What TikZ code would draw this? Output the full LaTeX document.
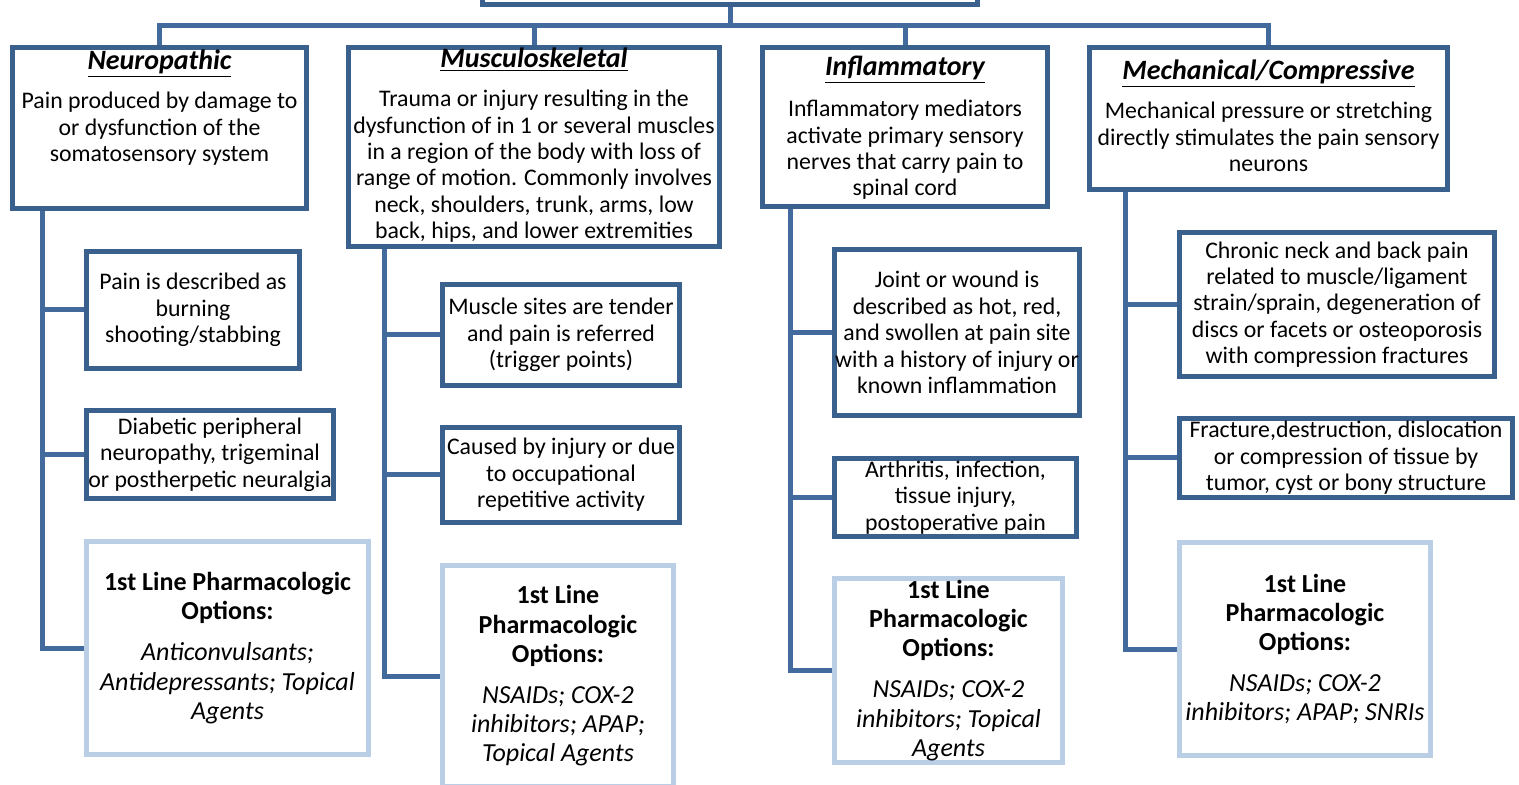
\documentclass[tikz,border=0pt]{standalone}
\usepackage{fontspec}
\setmainfont{Carlito}
\usetikzlibrary{positioning}
\definecolor{boxblue}{RGB}{58,96,142}
\definecolor{lineblue}{RGB}{66,106,156}
\definecolor{pharmblue}{RGB}{186,206,230}
\tikzset{
  boxsize/.style 2 args={minimum width=#1*0.5pt, minimum height=#2*0.5pt},
  catbox/.style={draw=boxblue, line width=2.5pt, fill=white, inner sep=0pt},
  subbox/.style={draw=boxblue, line width=2.5pt, fill=white, align=center, inner sep=0pt, font=\fontsize{11.9}{13.2}\selectfont},
  pharmbox/.style={draw=pharmblue, line width=2.5pt, fill=white, align=center, inner sep=0pt, font=\fontsize{13}{14.6}\selectfont},
  cattitle/.style={inner sep=0pt, text height=9pt, text depth=3pt, font=\fontsize{14}{16}\selectfont\bfseries\itshape},
  catdesc/.style={inner sep=0pt, align=center, font=\fontsize{11.9}{13.2}\selectfont},
  link/.style={draw=lineblue, line width=2.5pt}
}
\begin{document}
\begin{tikzpicture}[x=0.5pt, y=-0.5pt]
  \useasboundingbox (0,0) rectangle (1519,785);

  % top box and the four categories
  \node[catbox, boxsize={495}{90}] (top) at (730,-40) {};
  \node[catbox, boxsize={294}{161}] (neuro) at (159.5,128) {};
  \node[catbox, boxsize={371}{199}] (musc) at (534,147) {};
  \node[catbox, boxsize={285}{159}] (infl) at (905,127) {};
  \node[catbox, boxsize={358}{142}] (mech) at (1268.5,118.5) {};

  \node[cattitle, below=3pt of neuro.north] (neurot) {\underline{Neuropathic}};
  \node[catdesc, below=8pt of neurot] (neurod) {Pain produced by damage to\\ or dysfunction of the\\ somatosensory system};
  \node[cattitle, below=2pt of musc.north] (musct) {\underline{Musculoskeletal}};
  \node[catdesc, below=8pt of musct] (muscd) {Trauma or injury resulting in the\\ dysfunction of in 1 or several muscles\\ in a region of the body with loss of\\ range of motion. Commonly involves\\ neck, shoulders, trunk, arms, low\\ back, hips, and lower extremities};
  \node[cattitle, below=6pt of infl.north] (inflt) {\underline{Inflammatory}};
  \node[catdesc, below=9pt of inflt] (infld) {Inflammatory mediators\\ activate primary sensory\\ nerves that carry pain to\\ spinal cord};
  \node[cattitle, below=8pt of mech.north] (mecht) {\underline{Mechanical/Compressive}};
  \node[catdesc, below=8pt of mecht] (mechd) {Mechanical pressure or stretching\\ directly stimulates the pain sensory\\ neurons};

  % neuropathic column
  \node[subbox, boxsize={213}{117}] (n1) at (193,310) {Pain is described as\\ burning\\ shooting/stabbing};
  \node[subbox, boxsize={247}{88}] (n2) at (210,454.5) {Diabetic peripheral\\ neuropathy, trigeminal\\ or postherpetic neuralgia};
  \node[pharmbox, boxsize={282}{213}] (npharm) at (227.5,648) {\textbf{1st Line Pharmacologic}\\ \textbf{Options:}\\[6pt] \textit{Anticonvulsants;}\\ \textit{Antidepressants; Topical}\\ \textit{Agents}};

  % musculoskeletal column
  \node[subbox, boxsize={237}{101}] (m1) at (561,335) {Muscle sites are tender\\ and pain is referred\\ (trigger points)};
  \node[subbox, boxsize={237}{95}] (m2) at (561,475) {Caused by injury or due\\ to occupational\\ repetitive activity};
  \node[pharmbox, boxsize={231}{221}] (mpharm) at (558,676) {\textbf{1st Line}\\ \textbf{Pharmacologic}\\ \textbf{Options:}\\[6pt] \textit{NSAIDs; COX-2}\\ \textit{inhibitors; APAP;}\\ \textit{Topical Agents}};

  % inflammatory column
  \node[subbox, boxsize={245}{166}] (i1) at (957,332.5) {Joint or wound is\\ described as hot, red,\\ and swollen at pain site\\ with a history of injury or\\ known inflammation};
  \node[subbox, boxsize={242}{78}] (i2) at (955.5,497.5) {Arthritis, infection,\\ tissue injury,\\ postoperative pain};
  \node[pharmbox, boxsize={228}{184}] (ipharm) at (948.5,670.5) {\textbf{1st Line}\\ \textbf{Pharmacologic}\\ \textbf{Options:}\\[6pt] \textit{NSAIDs; COX-2}\\ \textit{inhibitors; Topical}\\ \textit{Agents}};

  % mechanical column
  \node[subbox, boxsize={315}{144}] (c1) at (1337,304.5) {Chronic neck and back pain\\ related to muscle/ligament\\ strain/sprain, degeneration of\\ discs or facets or osteoporosis\\ with compression fractures};
  \node[subbox, boxsize={333}{79}] (c2) at (1346,458) {Fracture,destruction, dislocation\\ or compression of tissue by\\ tumor, cyst or bony structure};
  \node[pharmbox, boxsize={251}{213}] (cpharm) at (1305,649) {\textbf{1st Line}\\ \textbf{Pharmacologic}\\ \textbf{Options:}\\[6pt] \textit{NSAIDs; COX-2}\\ \textit{inhibitors; APAP; SNRIs}};

  % connectors
  \coordinate (bar) at (730,26);
  \coordinate (nx) at (42,0);
  \coordinate (mx) at (384,0);
  \coordinate (ix) at (790,0);
  \coordinate (cx) at (1125,0);
  \draw[link] (top.south) -- (top.south |- bar);
  \draw[link] (neuro.north) -- (neuro.north |- bar) -- (mech.north |- bar) -- (mech.north);
  \draw[link] (musc.north) -- (musc.north |- bar);
  \draw[link] (infl.north) -- (infl.north |- bar);
  \foreach \b in {n1,n2,npharm}
    \draw[link] (neuro.south -| nx) |- (\b.west);
  \foreach \b in {m1,m2,mpharm}
    \draw[link] (musc.south -| mx) |- (\b.west);
  \foreach \b in {i1,i2,ipharm}
    \draw[link] (infl.south -| ix) |- (\b.west);
  \foreach \b in {c1,c2,cpharm}
    \draw[link] (mech.south -| cx) |- (\b.west);
\end{tikzpicture}
\end{document}
